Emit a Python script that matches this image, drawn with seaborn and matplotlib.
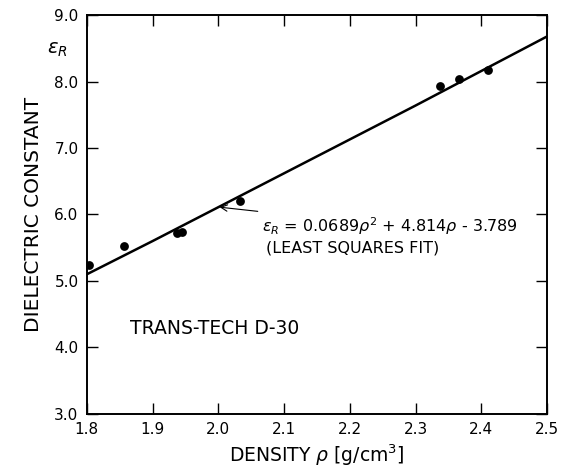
import numpy as np
import pandas as pd
import seaborn as sns
import matplotlib.pyplot as plt

# measured points (density, dielectric constant)
density = [1.804, 1.857, 1.937, 1.945, 2.033, 2.337, 2.366, 2.410]
eps_r = [5.24, 5.53, 5.72, 5.74, 6.20, 7.93, 8.04, 8.17]

# least squares fit curve
fit_density = [1.8, 1.9, 2.0, 2.1, 2.2, 2.3, 2.4, 2.5]
fit_eps = [5.10, 5.60, 6.11, 6.62, 7.13, 7.64, 8.16, 8.68]

x_ticks = [1.8, 1.9, 2.0, 2.1, 2.2, 2.3, 2.4, 2.5]
x_labels = ['1.8', '1.9', '2.0', '2.1', '2.2', '2.3', '2.4', '2.5']
y_ticks = [3.0, 4.0, 5.0, 6.0, 7.0, 8.0, 9.0]
y_labels = ['3.0', '4.0', '5.0', '6.0', '7.0', '8.0', '9.0']

sns.set_style('ticks')
plt.rcParams['font.family'] = ['DejaVu Sans']
plt.rcParams['text.color'] = 'black'
plt.rcParams['axes.labelcolor'] = 'black'

pts = pd.DataFrame({'rho': density, 'eps': eps_r})
fit = pd.DataFrame({'rho': fit_density, 'eps': fit_eps})

fig = plt.figure(figsize=(5.64, 4.74), dpi=100)
ax = fig.add_axes([0.154, 0.127, 0.816, 0.841])

sns.lineplot(data=fit, x='rho', y='eps', color='black', linewidth=1.8, ax=ax)
sns.scatterplot(data=pts, x='rho', y='eps', color='black', s=40,
                edgecolor='black', linewidth=0, ax=ax, zorder=3)

ax.set_xlim(1.8, 2.5)
ax.set_ylim(3.0, 9.0)
ax.set_xticks(x_ticks)
ax.set_xticklabels(x_labels)
ax.set_yticks(y_ticks)
ax.set_yticklabels(y_labels)
ax.tick_params(direction='in', length=8, width=1, top=True, right=True,
               labelsize=11, pad=6, colors='black')
for s in ax.spines.values():
    s.set_visible(True)
    s.set_linewidth(1.4)
    s.set_color('black')

ax.set_xlabel(r'DENSITY $\rho$ $[\mathrm{g/cm^3}]$', fontsize=13.5, labelpad=4)
ax.set_ylabel('DIELECTRIC CONSTANT', fontsize=14.5, labelpad=8)
fig.text(0.083, 0.895, r'$\epsilon_R$', fontsize=14, ha='left', va='center')

ax.annotate(r'$\epsilon_R$ = 0.0689$\rho^2$ + 4.814$\rho$ - 3.789',
            xy=(2.002, 6.11), xytext=(2.066, 5.83),
            fontsize=11.5, va='center', ha='left',
            arrowprops=dict(arrowstyle='->', color='black', lw=0.8,
                            shrinkA=2, shrinkB=0))
ax.text(2.072, 5.50, '(LEAST SQUARES FIT)', fontsize=11.5, va='center', ha='left')
ax.text(1.865, 4.28, 'TRANS-TECH D-30', fontsize=13.5, va='center', ha='left')

fig.savefig('out.png', dpi=100)
